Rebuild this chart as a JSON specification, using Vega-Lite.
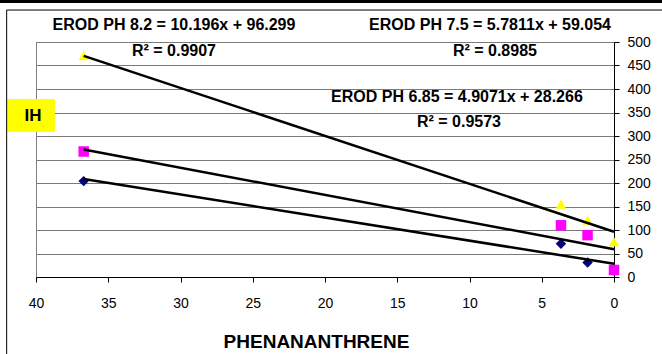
{
  "$schema": "https://vega.github.io/schema/vega-lite/v6.json",
  "width": 578,
  "height": 235,
  "autosize": {"type": "none"},
  "padding": {"left": 36, "top": 42, "right": 48, "bottom": 77},
  "background": "white",
  "config": {"font": "Liberation Sans", "view": {"stroke": "#808080", "strokeWidth": 1}},
  "datasets": {
    "points": [
      {"series": "EROD PH 6.85", "phen": 36.7, "erod": 204},
      {"series": "EROD PH 6.85", "phen": 3.67, "erod": 70.5},
      {"series": "EROD PH 6.85", "phen": 1.83, "erod": 31},
      {"series": "EROD PH 6.85", "phen": 0, "erod": 14},
      {"series": "EROD PH 7.5", "phen": 36.7, "erod": 267},
      {"series": "EROD PH 7.5", "phen": 3.67, "erod": 110},
      {"series": "EROD PH 7.5", "phen": 1.83, "erod": 89},
      {"series": "EROD PH 7.5", "phen": 0, "erod": 15},
      {"series": "EROD PH 8.2", "phen": 36.7, "erod": 471},
      {"series": "EROD PH 8.2", "phen": 3.67, "erod": 155},
      {"series": "EROD PH 8.2", "phen": 1.83, "erod": 121},
      {"series": "EROD PH 8.2", "phen": 0, "erod": 75}
    ],
    "trend": [
      {"series": "EROD PH 6.85", "phen": 36.7, "erod": 208.35},
      {"series": "EROD PH 6.85", "phen": 0, "erod": 28.266},
      {"series": "EROD PH 7.5", "phen": 36.7, "erod": 271.22},
      {"series": "EROD PH 7.5", "phen": 0, "erod": 59.054},
      {"series": "EROD PH 8.2", "phen": 36.7, "erod": 470.49},
      {"series": "EROD PH 8.2", "phen": 0, "erod": 96.299}
    ],
    "notes": [
      {"label": "EROD PH 8.2 = 10.196x + 96.299", "phen": 30.45, "erod": 537},
      {"label": "R² = 0.9907", "phen": 30.45, "erod": 480},
      {"label": "EROD PH 7.5 = 5.7811x + 59.054", "phen": 8.58, "erod": 537},
      {"label": "R² = 0.8985", "phen": 8.24, "erod": 480},
      {"label": "EROD PH 6.85 = 4.9071x + 28.266", "phen": 10.87, "erod": 383},
      {"label": "R² = 0.9573", "phen": 10.73, "erod": 330}
    ]
  },
  "layer": [
    {
      "data": {"name": "points"},
      "mark": {"type": "point", "filled": true, "opacity": 1, "strokeWidth": 0},
      "encoding": {
        "x": {
          "field": "phen", "type": "quantitative",
          "scale": {"domain": [0, 40], "reverse": true, "nice": false, "zero": false},
          "axis": {"values": [0, 5, 10, 15, 20, 25, 30, 35, 40], "grid": false, "tickSize": 5, "tickColor": "black", "domainColor": "black", "labelFontSize": 14, "labelColor": "black", "labelPadding": 14, "labelFlush": false, "labelOverlap": false, "title": "PHENANANTHRENE", "titleFontSize": 19, "titleFontWeight": "bold", "titleColor": "black", "titleX": 280, "titleY": 70, "titleBaseline": "alphabetic", "titleAlign": "center"}
        },
        "y": {
          "field": "erod", "type": "quantitative",
          "scale": {"domain": [0, 500], "nice": false},
          "axis": {"orient": "right", "values": [0, 50, 100, 150, 200, 250, 300, 350, 400, 450, 500], "grid": true, "gridColor": "#7a7a7a", "gridWidth": 1, "tickSize": 5, "tickColor": "black", "domainColor": "black", "labelFontSize": 14, "labelColor": "black", "labelPadding": 8, "labelOverlap": false, "labelFlush": false, "title": null}
        },
        "shape": {
          "field": "series", "type": "nominal",
          "scale": {"domain": ["EROD PH 6.85", "EROD PH 7.5", "EROD PH 8.2"], "range": ["diamond", "square", "triangle-up"]},
          "legend": null
        },
        "color": {
          "field": "series", "type": "nominal",
          "scale": {"domain": ["EROD PH 6.85", "EROD PH 7.5", "EROD PH 8.2"], "range": ["#000080", "#FF00FF", "#FFFF00"]},
          "legend": null
        },
        "size": {
          "field": "series", "type": "nominal",
          "scale": {"domain": ["EROD PH 6.85", "EROD PH 7.5", "EROD PH 8.2"], "range": [110, 110, 140]},
          "legend": null
        }
      }
    },
    {
      "data": {"name": "trend"},
      "mark": {"type": "line", "color": "black", "strokeWidth": 2.5},
      "encoding": {
        "x": {"field": "phen", "type": "quantitative",
          "axis": {"values": [0, 5, 10, 15, 20, 25, 30, 35, 40], "grid": false, "tickSize": 5, "tickColor": "black", "domainColor": "black", "labelFontSize": 14, "labelColor": "black", "labelPadding": 14, "labelFlush": false, "labelOverlap": false, "title": "PHENANANTHRENE", "titleFontSize": 19, "titleFontWeight": "bold", "titleColor": "black", "titleX": 280, "titleY": 70, "titleBaseline": "alphabetic", "titleAlign": "center"}},
        "y": {"field": "erod", "type": "quantitative",
          "axis": {"orient": "right", "values": [0, 50, 100, 150, 200, 250, 300, 350, 400, 450, 500], "grid": true, "gridColor": "#7a7a7a", "gridWidth": 1, "tickSize": 5, "tickColor": "black", "domainColor": "black", "labelFontSize": 14, "labelColor": "black", "labelPadding": 8, "labelOverlap": false, "labelFlush": false, "title": null}},
        "detail": {"field": "series", "type": "nominal"}
      }
    },
    {
      "data": {"name": "notes"},
      "mark": {"type": "text", "font": "Liberation Sans", "fontSize": 16, "fontWeight": "bold", "color": "black", "align": "center", "baseline": "middle"},
      "encoding": {
        "x": {"field": "phen", "type": "quantitative",
          "axis": {"values": [0, 5, 10, 15, 20, 25, 30, 35, 40], "grid": false, "tickSize": 5, "tickColor": "black", "domainColor": "black", "labelFontSize": 14, "labelColor": "black", "labelPadding": 14, "labelFlush": false, "labelOverlap": false, "title": "PHENANANTHRENE", "titleFontSize": 19, "titleFontWeight": "bold", "titleColor": "black", "titleX": 280, "titleY": 70, "titleBaseline": "alphabetic", "titleAlign": "center"}},
        "y": {"field": "erod", "type": "quantitative",
          "axis": {"orient": "right", "values": [0, 50, 100, 150, 200, 250, 300, 350, 400, 450, 500], "grid": true, "gridColor": "#7a7a7a", "gridWidth": 1, "tickSize": 5, "tickColor": "black", "domainColor": "black", "labelFontSize": 14, "labelColor": "black", "labelPadding": 8, "labelOverlap": false, "labelFlush": false, "title": null}},
        "text": {"field": "label", "type": "nominal"}
      }
    },
    {
      "data": {"values": [{}]},
      "mark": {"type": "rect", "color": "#FFFF00"},
      "encoding": {
        "x": {"datum": 42.0, "type": "quantitative",
          "axis": {"values": [0, 5, 10, 15, 20, 25, 30, 35, 40], "grid": false, "tickSize": 5, "tickColor": "black", "domainColor": "black", "labelFontSize": 14, "labelColor": "black", "labelPadding": 14, "labelFlush": false, "labelOverlap": false, "title": "PHENANANTHRENE", "titleFontSize": 19, "titleFontWeight": "bold", "titleColor": "black", "titleX": 280, "titleY": 70, "titleBaseline": "alphabetic", "titleAlign": "center"}},
        "x2": {"datum": 38.69},
        "y": {"datum": 378.7, "type": "quantitative",
          "axis": {"orient": "right", "values": [0, 50, 100, 150, 200, 250, 300, 350, 400, 450, 500], "grid": true, "gridColor": "#7a7a7a", "gridWidth": 1, "tickSize": 5, "tickColor": "black", "domainColor": "black", "labelFontSize": 14, "labelColor": "black", "labelPadding": 8, "labelOverlap": false, "labelFlush": false, "title": null}},
        "y2": {"datum": 308.5}
      }
    },
    {
      "data": {"values": [{"label": "IH"}]},
      "mark": {"type": "text", "fontSize": 17, "fontWeight": "bold", "color": "black", "align": "center", "baseline": "middle"},
      "encoding": {
        "x": {"datum": 40.2, "type": "quantitative",
          "axis": {"values": [0, 5, 10, 15, 20, 25, 30, 35, 40], "grid": false, "tickSize": 5, "tickColor": "black", "domainColor": "black", "labelFontSize": 14, "labelColor": "black", "labelPadding": 14, "labelFlush": false, "labelOverlap": false, "title": "PHENANANTHRENE", "titleFontSize": 19, "titleFontWeight": "bold", "titleColor": "black", "titleX": 280, "titleY": 70, "titleBaseline": "alphabetic", "titleAlign": "center"}},
        "y": {"datum": 343.6, "type": "quantitative",
          "axis": {"orient": "right", "values": [0, 50, 100, 150, 200, 250, 300, 350, 400, 450, 500], "grid": true, "gridColor": "#7a7a7a", "gridWidth": 1, "tickSize": 5, "tickColor": "black", "domainColor": "black", "labelFontSize": 14, "labelColor": "black", "labelPadding": 8, "labelOverlap": false, "labelFlush": false, "title": null}},
        "text": {"field": "label", "type": "nominal"}
      }
    },
    {
      "data": {"values": [{}]},
      "mark": {"type": "rule", "color": "black", "strokeWidth": 1},
      "encoding": {
        "x": {"datum": 42.03, "type": "quantitative",
          "axis": {"values": [0, 5, 10, 15, 20, 25, 30, 35, 40], "grid": false, "tickSize": 5, "tickColor": "black", "domainColor": "black", "labelFontSize": 14, "labelColor": "black", "labelPadding": 14, "labelFlush": false, "labelOverlap": false, "title": "PHENANANTHRENE", "titleFontSize": 19, "titleFontWeight": "bold", "titleColor": "black", "titleX": 280, "titleY": 70, "titleBaseline": "alphabetic", "titleAlign": "center"}},
        "y": {"datum": 568, "type": "quantitative",
          "axis": {"orient": "right", "values": [0, 50, 100, 150, 200, 250, 300, 350, 400, 450, 500], "grid": true, "gridColor": "#7a7a7a", "gridWidth": 1, "tickSize": 5, "tickColor": "black", "domainColor": "black", "labelFontSize": 14, "labelColor": "black", "labelPadding": 8, "labelOverlap": false, "labelFlush": false, "title": null}},
        "y2": {"datum": -170}
      }
    },
    {
      "data": {"values": [{}]},
      "mark": {"type": "rule", "color": "black", "strokeWidth": 1},
      "encoding": {
        "x": {"datum": 42.03, "type": "quantitative",
          "axis": {"values": [0, 5, 10, 15, 20, 25, 30, 35, 40], "grid": false, "tickSize": 5, "tickColor": "black", "domainColor": "black", "labelFontSize": 14, "labelColor": "black", "labelPadding": 14, "labelFlush": false, "labelOverlap": false, "title": "PHENANANTHRENE", "titleFontSize": 19, "titleFontWeight": "bold", "titleColor": "black", "titleX": 280, "titleY": 70, "titleBaseline": "alphabetic", "titleAlign": "center"}},
        "x2": {"datum": -3.5},
        "y": {"datum": 568, "type": "quantitative",
          "axis": {"orient": "right", "values": [0, 50, 100, 150, 200, 250, 300, 350, 400, 450, 500], "grid": true, "gridColor": "#7a7a7a", "gridWidth": 1, "tickSize": 5, "tickColor": "black", "domainColor": "black", "labelFontSize": 14, "labelColor": "black", "labelPadding": 8, "labelOverlap": false, "labelFlush": false, "title": null}}
      }
    },
    {
      "data": {"values": [{}]},
      "mark": {"type": "rule", "color": "black", "strokeWidth": 3},
      "encoding": {
        "x": {"datum": 42.6, "type": "quantitative",
          "axis": {"values": [0, 5, 10, 15, 20, 25, 30, 35, 40], "grid": false, "tickSize": 5, "tickColor": "black", "domainColor": "black", "labelFontSize": 14, "labelColor": "black", "labelPadding": 14, "labelFlush": false, "labelOverlap": false, "title": "PHENANANTHRENE", "titleFontSize": 19, "titleFontWeight": "bold", "titleColor": "black", "titleX": 280, "titleY": 70, "titleBaseline": "alphabetic", "titleAlign": "center"}},
        "x2": {"datum": -3.5},
        "y": {"datum": 586, "type": "quantitative",
          "axis": {"orient": "right", "values": [0, 50, 100, 150, 200, 250, 300, 350, 400, 450, 500], "grid": true, "gridColor": "#7a7a7a", "gridWidth": 1, "tickSize": 5, "tickColor": "black", "domainColor": "black", "labelFontSize": 14, "labelColor": "black", "labelPadding": 8, "labelOverlap": false, "labelFlush": false, "title": null}}
      }
    }
  ]
}
